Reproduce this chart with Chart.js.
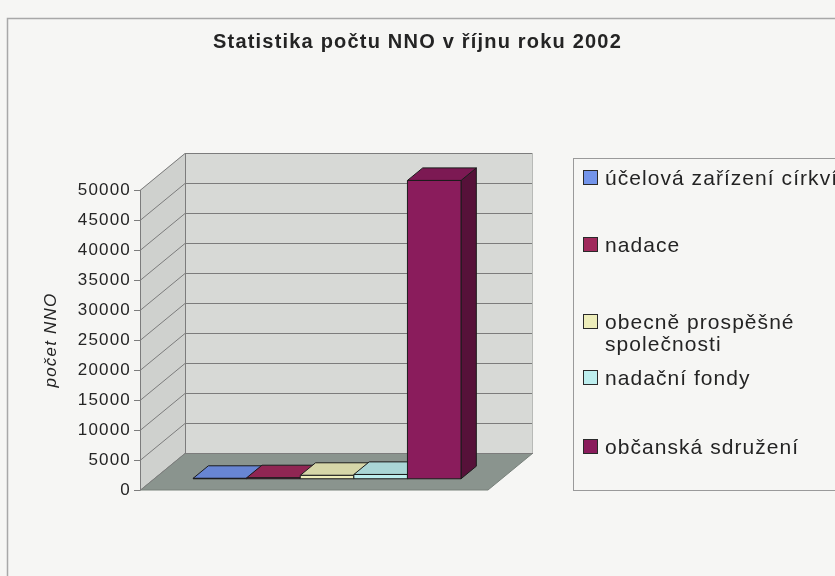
<!DOCTYPE html>
<html>
<head>
<meta charset="utf-8">
<script src="https://cdn.jsdelivr.net/npm/chart.js@4.4.1/dist/chart.umd.min.js"></script>
<style>
  html, body { margin: 0; padding: 0; background: #f6f6f4; }
</style>
</head>
<body>
<canvas id="myChart" width="835" height="576"></canvas>
<script>
const categories = ['2002'];
const seriesNames = [
  ['účelová zařízení církví'],
  ['nadace'],
  ['obecně prospěšné', 'společnosti'],
  ['nadační fondy'],
  ['občanská sdružení']
];
const seriesValues = [[150], [250], [650], [800], [49800]];
const seriesColors = ['#7394ea', '#a02a5c', '#eeeebb', '#bdeeee', '#8a1c5c'];
const yTicks = [0, 5000, 10000, 15000, 20000, 25000, 30000, 35000, 40000, 45000, 50000];

const FONT = 'Liberation Sans, Arial, sans-serif';
const TEXT = '#242424';
const DEPTH = {x: 45, y: -37};
const legendRows = [178, 245, 322, 378, 447];

function shade(hex, f) {
  const n = parseInt(hex.slice(1), 16);
  const r = Math.round(((n >> 16) & 255) * f);
  const g = Math.round(((n >> 8) & 255) * f);
  const b = Math.round((n & 255) * f);
  return 'rgb(' + r + ',' + g + ',' + b + ')';
}

function poly(c, pts, fill, stroke) {
  c.beginPath();
  c.moveTo(pts[0][0], pts[0][1]);
  for (let i = 1; i < pts.length; i++) c.lineTo(pts[i][0], pts[i][1]);
  c.closePath();
  if (fill) { c.fillStyle = fill; c.fill(); }
  if (stroke) { c.strokeStyle = stroke; c.stroke(); }
}

const threeD = {
  id: 'threeD',
  beforeLayout(chart) { chart.ctx.letterSpacing = '1.2px'; },
  beforeDraw(chart) {
    const c = chart.ctx;
    c.letterSpacing = '1.2px';
    c.save();
    c.fillStyle = '#f6f6f4';
    c.fillRect(0, 0, chart.width, chart.height);
    c.strokeStyle = '#a8a8a8';
    c.lineWidth = 1.5;
    c.beginPath();
    c.moveTo(7.5, chart.height);
    c.lineTo(7.5, 18.5);
    c.lineTo(chart.width, 18.5);
    c.stroke();
    c.restore();
  },
  beforeDatasetsDraw(chart) {
    const c = chart.ctx;
    const a = chart.chartArea;
    const ys = chart.scales.y;
    const dx = DEPTH.x, dy = DEPTH.y;
    c.save();
    c.lineWidth = 1;
    // floor
    poly(c, [[a.left, a.bottom], [a.right, a.bottom], [a.right + dx, a.bottom + dy], [a.left + dx, a.bottom + dy]], '#8a948e', '#78817b');
    // side wall
    poly(c, [[a.left, a.bottom], [a.left + dx, a.bottom + dy], [a.left + dx, a.top + dy], [a.left, a.top]], '#cfd1ce', null);
    // back wall
    poly(c, [[a.left + dx, a.bottom + dy], [a.right + dx, a.bottom + dy], [a.right + dx, a.top + dy], [a.left + dx, a.top + dy]], '#d7d9d6', null);
    // grid lines
    c.strokeStyle = '#7c7c7c';
    ys.ticks.forEach(t => {
      const y = Math.round(ys.getPixelForValue(t.value)) + 0.5;
      c.beginPath();
      c.moveTo(a.left, y);
      c.lineTo(a.left + dx, y + dy);
      c.lineTo(a.right + dx, y + dy);
      c.stroke();
    });
    // wall edges
    c.beginPath();
    c.moveTo(a.left + 0.5, a.bottom);
    c.lineTo(a.left + 0.5, a.top);
    c.moveTo(a.left + dx + 0.5, a.bottom + dy);
    c.lineTo(a.left + dx + 0.5, a.top + dy);
    c.stroke();
    c.strokeStyle = '#b8bab7';
    c.beginPath();
    c.moveTo(a.right + dx - 0.5, a.bottom + dy);
    c.lineTo(a.right + dx - 0.5, a.top + dy);
    c.stroke();

    // bars as boxes, left to right
    const ox = dx * 0.29, oy = dy * 0.29;
    const bx = dx * 0.34, by = dy * 0.34;
    chart.data.datasets.forEach((ds, i) => {
      const meta = chart.getDatasetMeta(i);
      meta.data.forEach(el => {
        const p = el.getProps(['x', 'y', 'base', 'width'], true);
        const x0 = p.x - p.width / 2 + ox, x1 = p.x + p.width / 2 + ox;
        const yt = p.y + oy, yb = p.base + oy;
        const col = ds.backgroundColor;
        c.lineWidth = 1;
        poly(c, [[x1, yt], [x1 + bx, yt + by], [x1 + bx, yb + by], [x1, yb]], shade(col, 0.62), '#1c1c1c');
        poly(c, [[x0, yt], [x1, yt], [x1 + bx, yt + by], [x0 + bx, yt + by]], shade(col, 0.9), '#1c1c1c');
        poly(c, [[x0, yt], [x1, yt], [x1, yb], [x0, yb]], col, '#1c1c1c');
      });
    });
    c.restore();
    return false;
  },
  afterDraw(chart) {
    const c = chart.ctx;
    c.save();
    c.letterSpacing = '1.05px';
    c.strokeStyle = '#9a9a9a';
    c.lineWidth = 1;
    c.strokeRect(573.5, 158.5, 300, 332);
    c.font = '21px ' + FONT;
    c.textBaseline = 'middle';
    c.textAlign = 'left';
    chart.data.datasets.forEach((ds, i) => {
      const y = legendRows[i];
      c.fillStyle = ds.backgroundColor;
      c.fillRect(583.5, y - 7.5, 14, 14);
      c.strokeStyle = '#2a2a2a';
      c.strokeRect(583.5, y - 7.5, 14, 14);
      c.fillStyle = TEXT;
      seriesNames[i].forEach((line, k) => c.fillText(line, 605, y + 1 + k * 22));
    });
    c.restore();
  }
};

const ctx = document.getElementById('myChart').getContext('2d');
const myChart = new Chart(ctx, {
  type: 'bar',
  data: {
    labels: categories,
    datasets: seriesNames.map((name, i) => ({
      label: name.join(' '),
      data: seriesValues[i],
      backgroundColor: seriesColors[i],
      categoryPercentage: 0.77,
      barPercentage: 1
    }))
  },
  options: {
    responsive: false,
    animation: false,
    devicePixelRatio: 1,
    layout: {padding: {left: 0, right: 0, top: 0, bottom: 86}},
    scales: {
      x: {display: false},
      y: {
        min: 0,
        max: 50000,
        afterBuildTicks: s => { s.ticks = yTicks.map(v => ({value: v})); },
        afterFit: s => { s.width = 140; },
        ticks: {
          font: {size: 17, family: FONT},
          color: TEXT,
          padding: 3,
          callback: v => String(v)
        },
        grid: {drawOnChartArea: false, drawTicks: true, tickLength: 6, color: '#7c7c7c'},
        border: {display: false},
        title: {
          display: true,
          text: 'počet NNO',
          font: {size: 17, style: 'italic', family: FONT},
          color: TEXT,
          padding: {top: 41, bottom: 0}
        }
      },
      // empty right-hand box that keeps the room for the legend
      y2: {
        type: 'linear',
        position: 'right',
        display: true,
        ticks: {display: false},
        grid: {display: false},
        border: {display: false},
        afterFit: s => { s.width = 347; }
      }
    },
    plugins: {
      legend: {display: false},
      tooltip: {enabled: false},
      title: {
        display: true,
        text: 'Statistika počtu NNO v říjnu roku 2002',
        font: {size: 20, weight: 'bold', family: FONT},
        color: TEXT,
        padding: {top: 30, bottom: 136}
      }
    }
  },
  plugins: [threeD]
});
</script>
</body>
</html>
